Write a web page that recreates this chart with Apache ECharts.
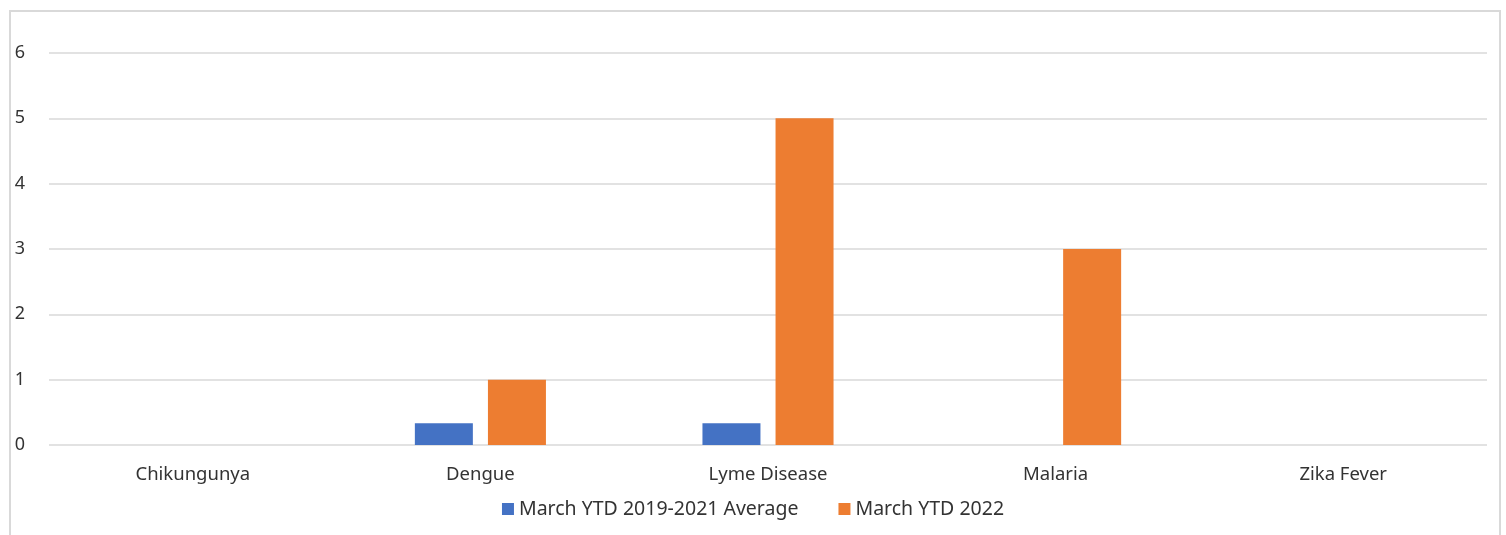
<!DOCTYPE html>
<html>
   <head>       <meta charset="utf-8">   </head>
   <body style="margin:0; background:#fff;">
       <div id="frame" style="position:absolute; left:9px; top:10px; width:1488px; height:540px; border:2px solid #d9d9d9;"></div>
       <div id="container" style="position:absolute; left:0; top:0; width:1506px; height:535px;"></div>
       <script type="text/javascript" src="https://cdn.jsdelivr.net/npm/echarts@6/dist/echarts.min.js"></script>
       <script type="text/javascript">

// diseases on the x axis
var categories = ['Chikungunya', 'Dengue', 'Lyme Disease', 'Malaria', 'Zika Fever'];
// case counts
var avgName = 'March YTD 2019-2021 Average';
var avgValues = [0, 0.333, 0.333, 0, 0];
var curName = 'March YTD 2022';
var curValues = [0, 1, 5, 3, 0];

var font = 'Noto Sans';

var dom = document.getElementById("container");
var myChart = echarts.init(dom);

var option = {
    animation: false,
    textStyle: {fontFamily: font},
    grid: {left: 49, right: 19, top: 53, bottom: 90},
    legend: {
        data: [avgName, curName],
        bottom: 11,
        left: 'center',
        itemWidth: 12, itemHeight: 12, itemGap: 40,
        icon: 'rect',
        textStyle: {fontSize: 19.5, color: '#333', fontFamily: font}
    },
    xAxis: {
        type: 'category',
        data: categories,
        axisLine: {show: false},
        axisTick: {show: false},
        axisLabel: {fontSize: 18.5, color: '#333', margin: 20, fontFamily: font}
    },
    yAxis: {
        type: 'value',
        min: 0, max: 6, interval: 1,
        axisLine: {show: false},
        axisTick: {show: false},
        splitLine: {lineStyle: {color: '#d9d9d9', width: 1.5}},
        axisLabel: {fontSize: 18, color: '#333', margin: 24, fontFamily: font}
    },
    series: [
        {name: avgName, type: 'bar', data: avgValues, barWidth: 58, barGap: '26%',
         itemStyle: {color: '#4472c4'}},
        {name: curName, type: 'bar', data: curValues, barWidth: 58,
         itemStyle: {color: '#ed7d31'}}
    ]
};

myChart.setOption(option, true);
       </script>
   </body>
</html>
